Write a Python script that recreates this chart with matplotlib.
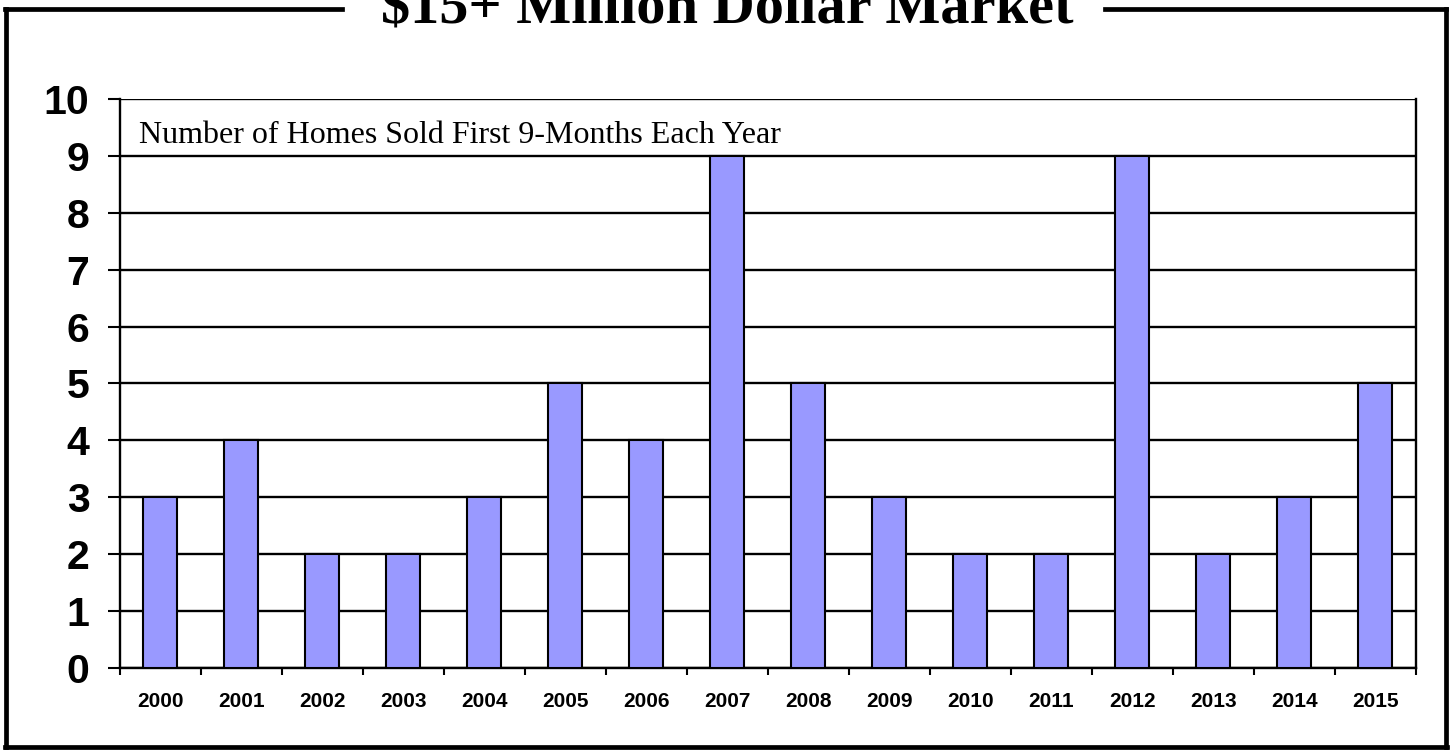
"""
$15+ Million Dollar Market - homes sold in the first 9 months of each year.
"""

import matplotlib
matplotlib.use('Agg')
import matplotlib.pyplot as plt
from matplotlib.lines import Line2D
import numpy as np

years = ['2000', '2001', '2002', '2003', '2004', '2005', '2006', '2007',
         '2008', '2009', '2010', '2011', '2012', '2013', '2014', '2015']
homes_sold = [3, 4, 2, 2, 3, 5, 4, 9, 5, 3, 2, 2, 9, 2, 3, 5]
y_ticks = list(range(0, 11))

title = '$15+ Million Dollar Market'
note = 'Number of Homes Sold First 9-Months Each Year'

fig = plt.figure(figsize=(14.52, 7.52), dpi=100)
ax = fig.add_axes([0.0826, 0.1117, 0.8926, 0.7567])

x = np.arange(len(years))
ax.bar(x, homes_sold, width=0.42, color='#9999FF', edgecolor='black',
       linewidth=1.5, zorder=3)

ax.set_xlim(-0.5, len(years) - 0.5)
ax.set_ylim(0, 10)

# y axis: bold labels, black gridlines at every integer
ax.set_yticks(y_ticks)
ax.set_yticklabels([str(v) for v in y_ticks], fontsize=29.5, fontweight='bold',
                   family='Liberation Sans')
ax.tick_params(axis='y', direction='out', length=9, width=1.5, pad=13)
ax.yaxis.grid(True, color='black', linewidth=1.7, zorder=1)

# x axis: labels at centers, small ticks between categories
ax.set_xticks(x)
ax.set_xticklabels(years, fontsize=15, fontweight='bold', family='Liberation Sans')
ax.tick_params(axis='x', which='major', length=0, pad=17)
ax.set_xticks(np.arange(-0.5, len(years)), minor=True)
ax.tick_params(axis='x', which='minor', direction='out', length=5, width=1.5)

for side in ['left', 'right', 'bottom']:
    ax.spines[side].set_linewidth(1.7)
ax.spines['top'].set_visible(False)
ax.set_axisbelow(False)

ax.text(-0.27, 9.23, note, fontsize=23, family='Liberation Serif',
        ha='left', va='baseline', zorder=4)

# outer frame with a gap for the title
W, H = 1452.0, 752.0
lw = 3.4
frame = [
    ([5 / W, 342 / W], [1 - 9 / H, 1 - 9 / H]),
    ([1105 / W, 1446 / W], [1 - 9 / H, 1 - 9 / H]),
    ([6 / W, 6 / W], [1 - 9 / H, 1 - 747 / H]),
    ([1446 / W, 1446 / W], [1 - 9 / H, 1 - 747 / H]),
    ([5 / W, 1447 / W], [1 - 747 / H, 1 - 747 / H]),
]
for xs, ys in frame:
    fig.add_artist(Line2D(xs, ys, color='black', linewidth=lw,
                          solid_capstyle='projecting'))

fig.text(727 / W, 1 - 23 / H, title, fontsize=42, fontweight='bold',
         family='Liberation Serif', ha='center', va='baseline')

fig.savefig('out.png', dpi=100, facecolor='white')
